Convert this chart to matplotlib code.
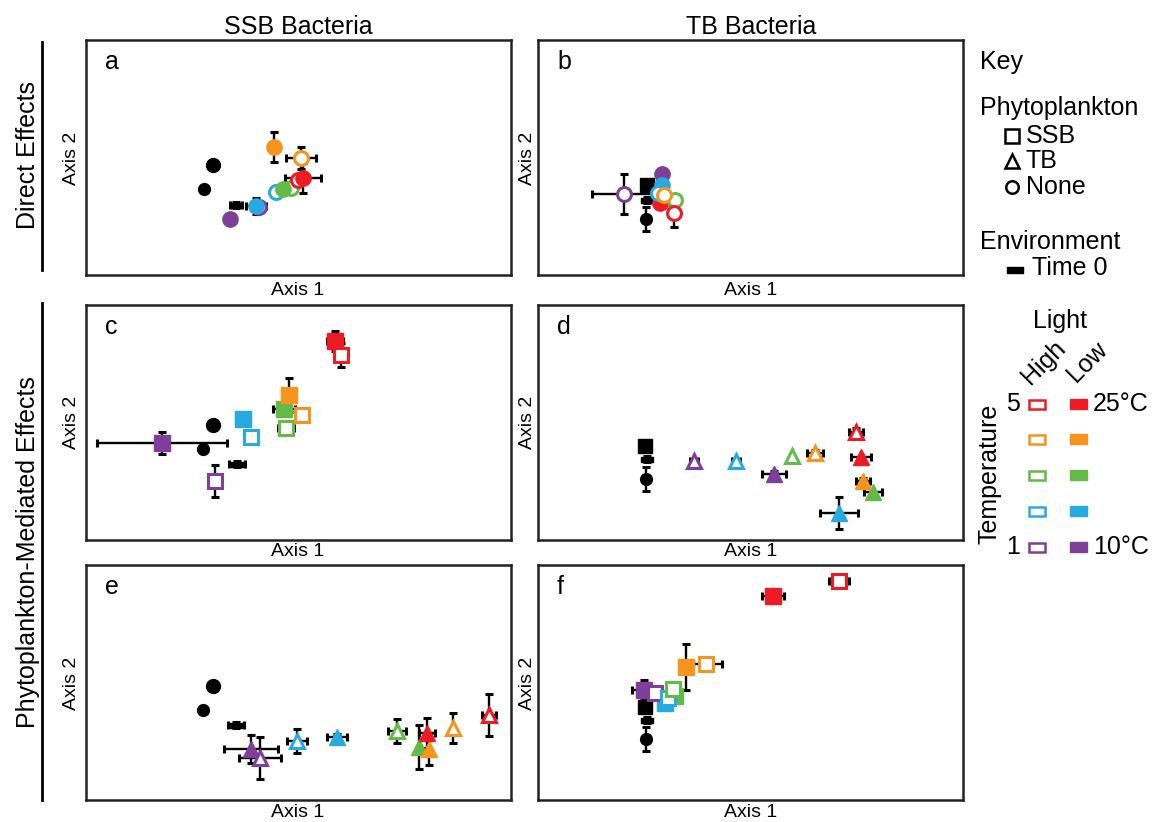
import matplotlib.pyplot as plt
from matplotlib.patches import Rectangle

plt.rcParams['font.family'] = ['Liberation Sans', 'DejaVu Sans']

W, H = 1154, 822
fig = plt.figure(figsize=(W / 100, H / 100), dpi=100)

# temperature steps 5 (25°C) .. 1 (10°C)
temp_colors = ['#ED1C24', '#F7941D', '#62BB46', '#27AAE1', '#7F3F98']

# ordination scores (arbitrary units, no ticks)
# order: High light 5,4,3,2,1 then Low light 5,4,3,2,1
a_x = [212, 215, 205, 190, 173, 217, 188, 197, 170, 144]
a_y = [95, 117, 87, 83, 68, 97, 128, 86, 69, 56]
a_xerr = [0, 15, 0, 0, 0, 18, 0, 0, 10, 0]
a_yerr = [0, 11, 0, 0, 0, 15, 15, 0, 8, 0]

b_x = [136, 126, 137, 120, 86, 122, 125, 128, 124, 124]
b_y = [62, 80, 75, 82, 81, 72, 78, 76, 90, 101]
b_xerr = [6, 0, 0, 0, 32, 0, 0, 0, 0, 0]
b_yerr = [14, 0, 0, 0, 20, 0, 0, 0, 0, 0]

c_x = [255, 216, 200, 165, 129, 249, 203, 198, 157, 76]
c_y = [185, 125, 112, 103, 59, 199, 145, 131, 121, 97]
c_xerr = [0, 4, 8, 7, 0, 8, 0, 11, 7, 65]
c_yerr = [12, 4, 0, 3, 16, 10, 17, 0, 3, 11]

d_x = [318, 277, 254, 198, 156, 323, 325, 335, 301, 236]
d_y = [108, 87, 84, 79, 79, 83, 59, 48, 27, 66]
d_xerr = [7, 8, 0, 4, 4, 10, 7, 9, 19, 12]
d_yerr = [4, 3, 0, 0, 0, 0, 3, 0, 16, 3]

e_x = [403, 367, 311, 211, 174, 341, 343, 333, 251, 165]
e_y = [85, 72, 69, 59, 42, 67, 51, 53, 63, 51]
e_xerr = [7, 0, 9, 10, 21, 8, 0, 0, 10, 27]
e_yerr = [21, 15, 12, 12, 21, 15, 16, 22, 3, 14]

f_x = [301, 168, 135, 130, 117, 235, 148, 137, 127, 106]
f_y = [219, 136, 111, 102, 107, 204, 133, 104, 97, 110]
f_xerr = [10, 16, 0, 0, 0, 11, 0, 0, 0, 12]
f_yerr = [3, 3, 0, 0, 0, 3, 23, 0, 0, 10]

# black reference points: SSB-panels (circle, circle, time 0), TB-panels (square, time 0, circle)
ssb_ctrl_marks = ['o', 'o', 't0']
tb_ctrl_marks = ['s', 't0', 'o']
a_ctrl_x, a_ctrl_y = [127, 118, 150], [110, 86, 70]
a_ctrl_xerr, a_ctrl_yerr = [3, 0, 6], [3, 0, 3]
b_ctrl_x, b_ctrl_y = [109, 109, 108], [90, 75, 56]
b_ctrl_xerr, b_ctrl_yerr = [0, 2, 0], [0, 3, 12]
c_ctrl_x, c_ctrl_y = [127, 117, 151], [115, 91, 76]
c_ctrl_xerr, c_ctrl_yerr = [3, 0, 8], [3, 0, 3]
d_ctrl_x, d_ctrl_y = [107, 109, 108], [94, 81, 61]
d_ctrl_xerr, d_ctrl_yerr = [0, 2, 0], [0, 3, 12]
e_ctrl_x, e_ctrl_y = [127, 117, 150], [114, 90, 75]
e_ctrl_xerr, e_ctrl_yerr = [3, 0, 8], [3, 0, 3]
f_ctrl_x, f_ctrl_y = [107, 109, 108], [93, 80, 61]
f_ctrl_xerr, f_ctrl_yerr = [0, 2, 0], [0, 3, 12]

T0 = [(-1, -0.45), (1, -0.45), (1, 0.45), (-1, 0.45), (-1, -0.45)]
PW, PH = 425, 235


def add_panel(left, top):
    ax = fig.add_axes([left / W, 1 - (top + PH) / H, PW / W, PH / H])
    ax.set_xlim(0, PW)
    ax.set_ylim(0, PH)
    ax.set_xticks([])
    ax.set_yticks([])
    for s in ax.spines.values():
        s.set_linewidth(1.8)
        s.set_color('#222222')
    return ax


def draw(ax, x, y, xerr, yerr, mk, cx, cy, cxe, cye, cmarks, open_first=False):
    ax.errorbar(x, y, xerr=xerr, yerr=yerr, fmt='none', ecolor='black',
                elinewidth=1.7, capsize=3.2, capthick=2.2, zorder=2)
    ax.errorbar(cx, cy, xerr=cxe, yerr=cye, fmt='none', ecolor='black',
                elinewidth=1.7, capsize=3, capthick=2.2, zorder=2)
    for i, m in enumerate(cmarks):
        if m == 't0':
            ax.plot(cx[i], cy[i], marker=T0, ms=8, color='black', zorder=3)
        else:
            ax.plot(cx[i], cy[i], marker=m, ms=10 if i == 0 else 8.5,
                    color='black', zorder=3)
    for k in range(4, -1, -1):
        c = temp_colors[k]
        zf, zo = (5, 4) if open_first else (4, 5)
        ax.plot(x[5 + k], y[5 + k], marker=mk, ms=11, color=c, mec=c, zorder=zf)
        ax.plot(x[k], y[k], marker=mk, ms=10, mfc='white', mec=c, mew=2.2, zorder=zo)


lefts = [86, 538]
tops = [40, 305, 565]
axa = add_panel(lefts[0], tops[0])
axb = add_panel(lefts[1], tops[0])
axc = add_panel(lefts[0], tops[1])
axd = add_panel(lefts[1], tops[1])
axe = add_panel(lefts[0], tops[2])
axf = add_panel(lefts[1], tops[2])

draw(axa, a_x, a_y, a_xerr, a_yerr, 'o', a_ctrl_x, a_ctrl_y, a_ctrl_xerr, a_ctrl_yerr, ssb_ctrl_marks, open_first=True)
draw(axb, b_x, b_y, b_xerr, b_yerr, 'o', b_ctrl_x, b_ctrl_y, b_ctrl_xerr, b_ctrl_yerr, tb_ctrl_marks)
draw(axc, c_x, c_y, c_xerr, c_yerr, 's', c_ctrl_x, c_ctrl_y, c_ctrl_xerr, c_ctrl_yerr, ssb_ctrl_marks)
draw(axd, d_x, d_y, d_xerr, d_yerr, '^', d_ctrl_x, d_ctrl_y, d_ctrl_xerr, d_ctrl_yerr, tb_ctrl_marks)
draw(axe, e_x, e_y, e_xerr, e_yerr, '^', e_ctrl_x, e_ctrl_y, e_ctrl_xerr, e_ctrl_yerr, ssb_ctrl_marks)
draw(axf, f_x, f_y, f_xerr, f_yerr, 's', f_ctrl_x, f_ctrl_y, f_ctrl_xerr, f_ctrl_yerr, tb_ctrl_marks)

for ax, lab in zip([axa, axb, axc, axd, axe, axf], 'abcdef'):
    ax.text(19, PH - 22, lab, fontsize=18, ha='left', va='center')

# overlay in pixel coordinates for labels and key
ov = fig.add_axes([0, 0, 1, 1], zorder=10)
ov.set_xlim(0, W)
ov.set_ylim(H, 0)
ov.axis('off')

big = 18
ov.text(298, 27, 'SSB Bacteria', fontsize=big, ha='center', va='center')
ov.text(751, 27, 'TB Bacteria', fontsize=big, ha='center', va='center')
for cxp in [298, 751]:
    for yy in [290, 551, 812]:
        ov.text(cxp, yy, 'Axis 1', fontsize=14, ha='center', va='center')
for xx in [72, 527]:
    for yy in [158, 422, 683]:
        ov.text(xx, yy, 'Axis 2', fontsize=14, ha='center', va='center', rotation=90)

ov.text(28, 155, 'Direct Effects', fontsize=big, ha='center', va='center', rotation=90)
ov.text(28, 552, 'Phytoplankton-Mediated Effects', fontsize=big, ha='center', va='center', rotation=90)
ov.plot([42, 42], [42, 270], color='black', lw=2)
ov.plot([42, 42], [303, 800], color='black', lw=2)

# key
ov.text(980, 62, 'Key', fontsize=big, ha='left', va='center')
ov.text(980, 108, 'Phytoplankton', fontsize=big, ha='left', va='center')
for yy, mk, lab in [(136, 's', 'SSB'), (161, '^', 'TB'), (187, 'o', 'None')]:
    ov.plot(1012, yy, marker=mk, ms=10 if mk != 'o' else 9, mfc='white', mec='black', mew=1.8)
    ov.text(1026, yy, lab, fontsize=big, ha='left', va='center')
ov.text(980, 242, 'Environment', fontsize=big, ha='left', va='center')
ov.plot(1015, 270, marker=T0, ms=11, color='black')
ov.text(1032, 268, 'Time 0', fontsize=big, ha='left', va='center')

ov.text(1060, 321, 'Light', fontsize=big, ha='center', va='center')
ov.text(1044, 362, 'High', fontsize=big, ha='center', va='center', rotation=45)
ov.text(1087, 362, 'Low', fontsize=big, ha='center', va='center', rotation=45)
ov.text(990, 474, 'Temperature', fontsize=big, ha='center', va='center', rotation=90)
rows_y = [404, 439, 475, 511, 547]
for k, yy in enumerate(rows_y):
    c = temp_colors[k]
    ov.add_patch(Rectangle((1029, yy - 4.5), 16, 9, facecolor='white', edgecolor=c, lw=1.8))
    ov.add_patch(Rectangle((1070, yy - 5), 17, 10, facecolor=c, edgecolor=c, lw=1))
ov.text(1020, 404, '5', fontsize=big, ha='right', va='center')
ov.text(1020, 547, '1', fontsize=big, ha='right', va='center')
ov.text(1093, 404, '25°C', fontsize=big, ha='left', va='center')
ov.text(1093, 547, '10°C', fontsize=big, ha='left', va='center')

fig.savefig('out.png', dpi=100)
